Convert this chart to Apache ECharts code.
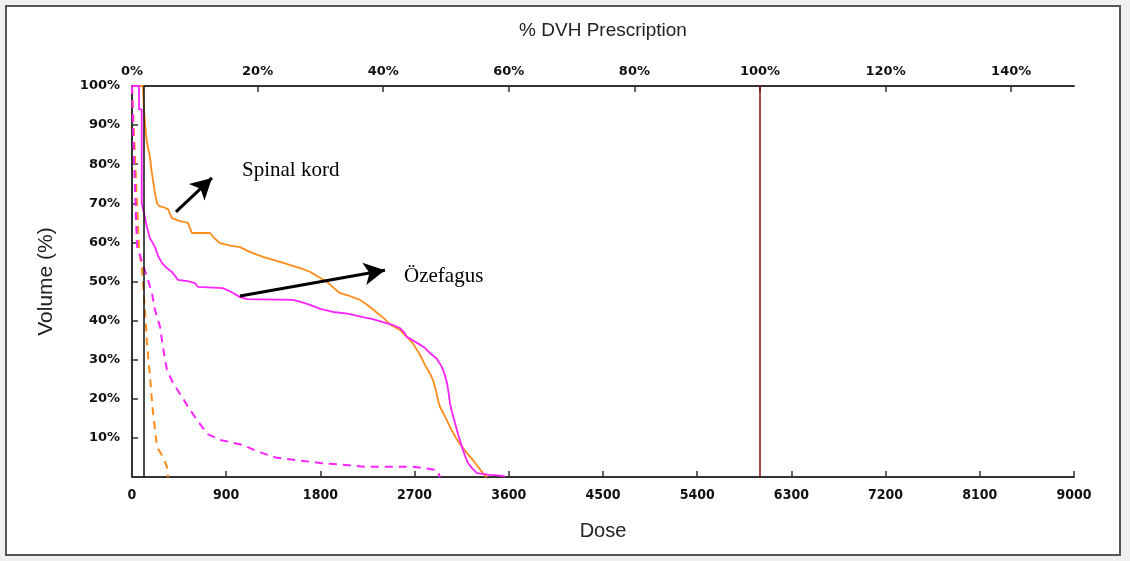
<!DOCTYPE html>
<html>
<head>
<meta charset="utf-8">
<script src="https://cdn.jsdelivr.net/npm/echarts@6/dist/echarts.min.js"></script>
<style>
html,body{margin:0;padding:0;background:#f0f0f0;}
#chart{width:1130px;height:561px;}
</style>
</head>
<body>
<div id="chart"></div>
<script>
// ---- data ----
const doseMin = 0, doseMax = 9000, doseStep = 900;
const pctMax = 150, pctStep = 20;
const pctTicks = [0, 20, 40, 60, 80, 100, 120, 140];
const volTicks = [10, 20, 30, 40, 50, 60, 70, 80, 90, 100];
const prescriptionDose = 6000;
const referenceDose = 110;

const spinalKordSolid = [[0,100],[105,100],[112,95],[124,90.5],[140,86],[155,84],[172,81.8],[186,78.5],[200,76],[220,72.5],[239,70],[260,69.3],[300,69],[344,68.5],[360,67.5],[382,66.2],[450,65.5],[535,65],[555,63.5],[573,62.4],[745,62.4],[790,61],[841,59.8],[940,59.2],[1032,58.8],[1130,57.5],[1252,56.3],[1414,55],[1605,53.4],[1700,52.5],[1790,51],[1863,49.9],[1930,48.3],[1987,47],[2080,46.3],[2178,45.3],[2260,43.8],[2340,42],[2410,40.5],[2465,39],[2560,37.6],[2627,35.8],[2680,34.3],[2723,32.5],[2760,30.8],[2800,28.6],[2840,26.8],[2876,24.8],[2905,22],[2925,19.5],[2943,17.9],[2990,15.5],[3038,12.8],[3095,10],[3153,7.7],[3210,5.8],[3258,4.3],[3300,2.8],[3353,1],[3390,0]];
const esophagusSolid = [[0,100],[67,100],[67,94],[93,94],[93,70],[110,68],[130,65.5],[150,63.2],[172,61],[195,60],[220,58.8],[250,56.5],[287,54.7],[330,53.5],[382,52.4],[410,51.5],[439,50.4],[530,50.1],[602,49.6],[630,48.6],[869,48.3],[950,47.3],[1032,46],[1099,45.5],[1538,45.3],[1620,44.7],[1700,44],[1800,43],[1920,42.2],[2060,41.8],[2207,40.9],[2300,40.4],[2398,39.6],[2480,39],[2560,38.1],[2600,37],[2627,35.8],[2680,35],[2723,34.3],[2790,33.2],[2847,31.7],[2910,30.3],[2962,28.1],[2990,26],[3010,24],[3025,21.5],[3038,18.9],[3060,16.3],[3086,13.8],[3120,10.5],[3153,7.7],[3180,5.5],[3210,3.6],[3250,2.2],[3296,1],[3400,0.6],[3544,0.3],[3560,0]];
const esophagusDashed = [[0,100],[10,100],[19,81],[48,59],[96,55],[153,50.4],[191,47],[220,42.7],[268,38.4],[296,33.2],[334,27.4],[392,24],[478,20.5],[535,17.9],[621,14.6],[720,11],[841,9.5],[1060,8.2],[1200,6.5],[1385,4.9],[1796,3.6],[2245,2.6],[2685,2.6],[2914,1.8],[2943,0]];
const spinalKordDashed = [[0,100],[19,100],[38,76],[67,58],[96,53],[124,42.7],[143,34.3],[172,25.6],[200,16.6],[239,7.7],[296,5.1],[334,2.6],[344,0]];

const arrowSpinal = [[420,67.8],[764,76.5]];
const arrowEsophagus = [[1032,46.3],[2417,52.9]];
const labelSpinal = {text: 'Spinal kord', at: [1051, 78.5]};
const labelEsophagus = {text: 'Özefagus', at: [2599, 51.2]};

// ---- chart ----
const chart = echarts.init(document.getElementById('chart'), null, {renderer: 'canvas'});
const ORANGE = '#ff8c1a', PINK = '#ff22ff';
const tickFont = {fontFamily: 'DejaVu Sans', fontWeight: 'bold', fontSize: 13, color: '#111'};

const option = {
  backgroundColor: '#f0f0f0',
  animation: false,
  graphic: [{
    type: 'rect', z: -10, silent: true,
    shape: {x: 6, y: 6, width: 1114, height: 549},
    style: {fill: '#ffffff', stroke: '#555555', lineWidth: 2}
  }],
  grid: {left: 132, right: 56, top: 86, bottom: 84, containLabel: false},
  xAxis: [{
    type: 'value', position: 'bottom', min: doseMin, max: doseMax, interval: doseStep,
    name: 'Dose', nameLocation: 'middle', nameGap: 44,
    nameTextStyle: {fontFamily: 'Liberation Sans', fontSize: 20, color: '#222'},
    axisLine: {lineStyle: {color: '#333', width: 2}},
    axisTick: {inside: true, length: 6, lineStyle: {color: '#333', width: 1.5}},
    axisLabel: {margin: 11, fontFamily: 'DejaVu Sans Condensed', fontWeight: 'bold', fontSize: 14, color: '#111',
                formatter: v => String(v)},
    splitLine: {show: false}
  }, {
    type: 'value', position: 'top', min: 0, max: pctMax, interval: pctStep,
    name: '% DVH Prescription', nameLocation: 'middle', nameGap: 46,
    nameTextStyle: {fontFamily: 'Liberation Sans', fontSize: 19, color: '#222'},
    axisLine: {lineStyle: {color: '#333', width: 2}},
    axisTick: {inside: true, length: 6, customValues: pctTicks, lineStyle: {color: '#333', width: 1.5}},
    axisLabel: Object.assign({margin: 8, customValues: pctTicks, formatter: v => v + '%'}, tickFont),
    splitLine: {show: false}
  }],
  yAxis: {
    type: 'value', min: 0, max: 100, interval: 10,
    name: 'Volume (%)', nameLocation: 'middle', nameGap: 75,
    nameTextStyle: {fontFamily: 'Liberation Sans', fontSize: 21, color: '#222'},
    axisLine: {show: true, lineStyle: {color: '#333', width: 2}},
    axisTick: {inside: true, length: 6, customValues: volTicks, lineStyle: {color: '#333', width: 1.5}},
    axisLabel: Object.assign({margin: 12, customValues: volTicks, formatter: v => v + '%'}, tickFont),
    splitLine: {show: false}
  },
  series: [
    {type: 'line', name: 'Spinal kord dashed', data: spinalKordDashed, showSymbol: false, symbol: 'none',
     lineStyle: {color: ORANGE, width: 2, type: [8, 6]}, z: 3},
    {type: 'line', name: 'Özefagus dashed', data: esophagusDashed, showSymbol: false, symbol: 'none',
     lineStyle: {color: PINK, width: 2, type: [8, 6]}, z: 3},
    {type: 'line', name: 'Spinal kord', data: spinalKordSolid, showSymbol: false, symbol: 'none',
     lineStyle: {color: ORANGE, width: 1.8}, z: 4},
    {type: 'line', name: 'Özefagus', data: esophagusSolid, showSymbol: false, symbol: 'none',
     lineStyle: {color: PINK, width: 1.8}, z: 4},
    {type: 'line', name: 'refs', data: [], z: 5,
     markLine: {
       silent: true, symbol: ['none', 'none'], label: {show: false},
       data: [
         {xAxis: prescriptionDose, lineStyle: {color: '#8b0a0a', width: 1.5, type: 'solid'}},
         {xAxis: referenceDose, lineStyle: {color: '#111', width: 1.5, type: 'solid'}}
       ]
     }},
    {type: 'line', name: 'arrows', data: [], z: 6,
     markLine: {
       silent: true, symbol: ['none', 'arrow'], symbolSize: [17, 21], label: {show: false},
       lineStyle: {color: '#000', width: 3, type: 'solid'},
       data: [
         [{coord: arrowSpinal[0]}, {coord: arrowSpinal[1]}],
         [{coord: arrowEsophagus[0]}, {coord: arrowEsophagus[1]}]
       ]
     },
     markPoint: {
       silent: true, symbol: 'circle', symbolSize: 0,
       label: {show: true, position: 'right', distance: 0, color: '#000',
               fontFamily: 'Liberation Serif', fontSize: 21, formatter: p => p.name},
       data: [
         {name: labelSpinal.text, coord: labelSpinal.at},
         {name: labelEsophagus.text, coord: labelEsophagus.at}
       ]
     }}
  ]
};
chart.setOption(option);
</script>
</body>
</html>
